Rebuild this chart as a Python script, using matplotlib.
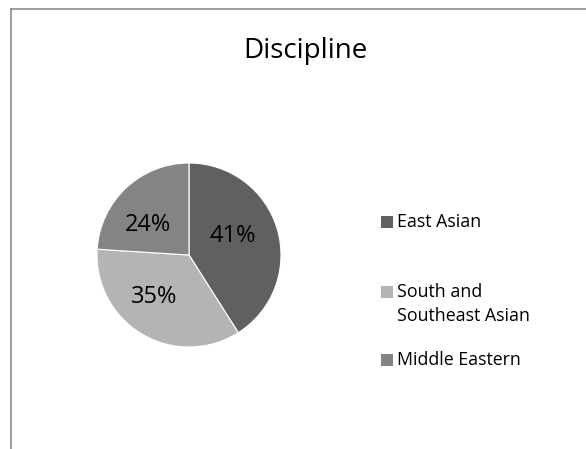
import matplotlib
matplotlib.use("Agg")
import matplotlib.pyplot as plt
from matplotlib.patches import Rectangle
from matplotlib.lines import Line2D

# Share of each discipline
categories = ["East Asian", "South and\nSoutheast Asian", "Middle Eastern"]
shares = [41, 35, 24]
colors = ["#606060", "#b4b4b4", "#848484"]

W, H = 586, 449
fig = plt.figure(figsize=(W / 100, H / 100), dpi=100)
fig.patch.set_facecolor("white")

def px(x, y):
    """Pixel position (from top-left) to figure fraction."""
    return x / W, 1 - y / H

# Chart-area frame (left and top edges visible)
fig.add_artist(Line2D([10.5 / W, 10.5 / W], [0, 1 - 8.5 / H], color="#8c8c8c", lw=1.2))
fig.add_artist(Line2D([10.5 / W, 1], [1 - 8.5 / H, 1 - 8.5 / H], color="#8c8c8c", lw=1.2))

font = "Open Sans"

fig.text(*px(305, 51), "Discipline", ha="center", va="center",
         fontsize=20, family=font, color="black")

# Pie
cx, cy, r = 189, 255, 92
ax = fig.add_axes([(cx - r) / W, 1 - (cy + r) / H, 2 * r / W, 2 * r / H])
wedges, texts, autotexts = ax.pie(
    shares, colors=colors, startangle=90, counterclock=False,
    autopct=lambda p: f"{p:.0f}%", pctdistance=0.55,
    wedgeprops=dict(edgecolor="white", linewidth=0.8),
    textprops=dict(fontsize=17, family=font, color="black"),
)
# Data-label anchors inside each slice (axes data units)
label_pos = [(0.478, 0.207), (-0.38, -0.457), (-0.446, 0.326)]
for t, pos in zip(autotexts, label_pos):
    t.set_position(pos)
ax.set_xlim(-1, 1)
ax.set_ylim(-1, 1)
ax.set_aspect("auto")
ax.axis("off")

# Legend
legend_y = [222, 304, 360]
marker_y = [222, 292, 360]
for label, col, y, my in zip(categories, colors, legend_y, marker_y):
    x0, y0 = px(381, my + 6)
    fig.add_artist(Rectangle((x0, y0), 12 / W, 12 / H, transform=fig.transFigure,
                             facecolor=col, edgecolor="none"))
    fig.text(*px(397, y), label, ha="left", va="center",
             fontsize=12.8, family=font, color="black", linespacing=1.4)

fig.savefig("out.png", dpi=100, facecolor="white")
